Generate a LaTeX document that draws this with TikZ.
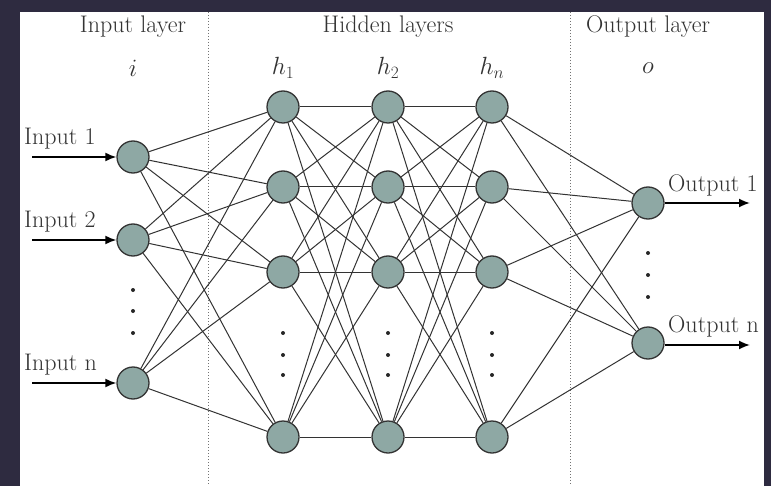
\documentclass[tikz,border=0pt]{standalone}
\usetikzlibrary{arrows.meta}
\definecolor{frame}{HTML}{2E2B40}
\definecolor{neuron}{HTML}{8EA8A4}
\definecolor{edge}{HTML}{333333}
\begin{document}
\begin{tikzpicture}[x=1pt,y=-1pt,
  neu/.style={circle,draw=edge,line width=1.3pt,fill=neuron,minimum size=32pt,inner sep=0pt},
  conn/.style={draw=edge,line width=1pt},
  io/.style={line width=1.8pt,-{Latex[length=11pt,width=9pt]}},
  lbl/.style={font=\fontsize{24}{28}\selectfont,text=black!80},
  sep/.style={draw=black!55,line width=1pt,dotted},
  dotm/.style={circle,fill=black!85,inner sep=0pt,minimum size=4pt}]
\useasboundingbox (0,0) rectangle (778,486);
\fill[white] (0,0) rectangle (778,486);
\fill[frame] (0,0) rectangle (771,12);
\fill[frame] (0,0) rectangle (20,486);
\fill[frame] (764,0) rectangle (771,486);
% separators
\coordinate (s1t) at (208,12); \coordinate (s1b) at (208,486);
\coordinate (s2t) at (570,12); \coordinate (s2b) at (570,486);
\draw[sep] (s1t) -- (s1b);
\draw[sep] (s2t) -- (s2b);
% headings
\node[lbl] (hin) at (133,27) {Input layer};
\node[lbl] (hhid) at (388,27) {Hidden layers};
\node[lbl] (hout) at (648,27) {Output layer};
\node[lbl] (li) at (133,68) {$i$};
\node[lbl] (l1) at (283,68) {$h_1$};
\node[lbl] (l2) at (388,68) {$h_2$};
\node[lbl] (l3) at (492,68) {$h_n$};
\node[lbl] (lo) at (648,68) {$o$};
% neurons
\node[neu] (i1) at (133,157) {};
\node[neu] (i2) at (133,240) {};
\node[neu] (i3) at (133,383) {};
\foreach \c/\x in {a/283,b/388,c/492}{
  \node[neu] (\c1) at (\x,107) {};
  \node[neu] (\c2) at (\x,187) {};
  \node[neu] (\c3) at (\x,272) {};
  \node[neu] (\c4) at (\x,437) {};
  \node[dotm] at (\x,333) {};
  \node[dotm] at (\x,355) {};
  \node[dotm] at (\x,375) {};
}
\node[neu] (o1) at (648,203) {};
\node[neu] (o2) at (648,343) {};
% connectors
\foreach \a in {i1,i2,i3}{
  \foreach \b in {a1,a2,a3,a4}{
    \draw[conn] (\a) -- (\b);
  }}
\foreach \a in {1,2,3,4}{
  \foreach \b in {1,2,3,4}{
    \draw[conn] (a\a) -- (b\b);
    \draw[conn] (b\a) -- (c\b);
  }}
\foreach \a in {c1,c2,c3,c4}{
  \foreach \b in {o1,o2}{
    \draw[conn] (\a) -- (\b);
  }}
\node[dotm] (di1) at (133,290) {};
\node[dotm] (di2) at (133,311) {};
\node[dotm] (di3) at (133,333) {};
\node[dotm] (do1) at (648,253) {};
\node[dotm] (do2) at (648,275) {};
\node[dotm] (do3) at (648,297) {};
% inputs
\coordinate (in1) at (32,157);
\coordinate (in2) at (32,240);
\coordinate (in3) at (32,383);
\draw[io] (in1) -- (i1.west);
\draw[io] (in2) -- (i2.west);
\draw[io] (in3) -- (i3.west);
\node[lbl,anchor=south west,inner sep=0pt] (t1) at (24,149) {Input 1};
\node[lbl,anchor=south west,inner sep=0pt] (t2) at (24,232) {Input 2};
\node[lbl,anchor=south west,inner sep=0pt] (t3) at (24,375) {Input n};
% outputs
\coordinate (out1) at (750,203);
\coordinate (out2) at (750,345);
\draw[io] (o1.east) -- (out1);
\draw[io] ([yshift=-2pt]o2.east) -- (out2);
\node[lbl,anchor=south west,inner sep=0pt] (u1) at (668,196) {Output 1};
\node[lbl,anchor=south west,inner sep=0pt] (u2) at (668,337) {Output n};
\end{tikzpicture}
\end{document}
